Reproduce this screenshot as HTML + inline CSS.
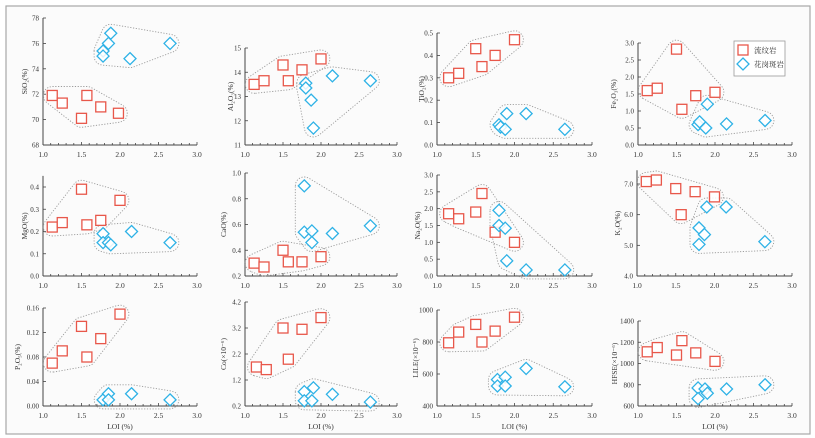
<!DOCTYPE html>
<html><head><meta charset="utf-8">
<style>
html,body{margin:0;padding:0;background:#fff;}
svg{display:block;}
text{font-family:"Liberation Serif","Noto Serif CJK SC",serif;fill:#333;}
</style></head>
<body>
<svg id="chart" width="815" height="438" viewBox="0 0 815 438" xmlns="http://www.w3.org/2000/svg">
<rect x="6" y="6" width="804" height="428" fill="#fbfbfb" stroke="#a8a8a8" stroke-width="1.2"/>
</svg>
<script>
// ---- data (LOI %, value) ----
const xTicks = ["1.0","1.5","2.0","2.5","3.0"];
const sio2Red = [[1.12,71.9],[1.25,71.3],[1.57,71.9],[1.75,71.0],[1.5,70.1],[1.98,70.5]];
const sio2Blue = [[1.78,75.4],[1.88,76.8],[1.85,76.0],[1.78,75.0],[2.13,74.8],[2.65,76.0]];
const al2o3Red = [[1.12,13.5],[1.25,13.65],[1.5,14.3],[1.57,13.65],[1.75,14.1],[2.0,14.55]];
const al2o3Blue = [[1.8,13.55],[1.8,13.35],[1.87,12.85],[1.9,11.7],[2.15,13.85],[2.65,13.65]];
const tio2Red = [[1.15,0.30],[1.28,0.32],[1.5,0.43],[1.58,0.35],[1.75,0.40],[2.0,0.47]];
const tio2Blue = [[1.8,0.09],[1.82,0.08],[1.88,0.07],[1.9,0.14],[2.15,0.14],[2.65,0.07]];
const fe2o3Red = [[1.12,1.6],[1.25,1.67],[1.5,2.82],[1.57,1.05],[1.75,1.45],[2.0,1.55]];
const fe2o3Blue = [[1.78,0.6],[1.8,0.68],[1.88,0.5],[1.9,1.2],[2.15,0.62],[2.65,0.72]];
const mgoRed = [[1.12,0.22],[1.25,0.24],[1.5,0.39],[1.57,0.23],[1.75,0.25],[2.0,0.34]];
const mgoBlue = [[1.78,0.19],[1.78,0.15],[1.85,0.15],[1.88,0.14],[2.15,0.2],[2.65,0.15]];
const caoRed = [[1.12,0.30],[1.25,0.27],[1.5,0.40],[1.57,0.31],[1.75,0.31],[2.0,0.35]];
const caoBlue = [[1.78,0.90],[1.78,0.54],[1.88,0.55],[1.88,0.46],[2.15,0.53],[2.65,0.59]];
const na2oRed = [[1.15,1.85],[1.28,1.7],[1.5,1.9],[1.58,2.45],[1.75,1.3],[2.0,1.0]];
const na2oBlue = [[1.8,1.95],[1.8,1.5],[1.88,1.42],[1.9,0.45],[2.15,0.18],[2.65,0.18]];
const k2oRed = [[1.12,7.08],[1.25,7.13],[1.5,6.85],[1.57,6.0],[1.75,6.75],[2.0,6.58]];
const k2oBlue = [[1.9,6.25],[2.15,6.25],[1.8,5.57],[1.87,5.35],[1.8,5.03],[2.65,5.12]];
const p2o5Red = [[1.12,0.07],[1.25,0.09],[1.5,0.13],[1.57,0.08],[1.75,0.11],[2.0,0.15]];
const p2o5Blue = [[1.78,0.01],[1.85,0.02],[1.85,0.01],[2.15,0.02],[2.65,0.01]];
const coRed = [[1.15,1.7],[1.28,1.6],[1.5,3.2],[1.57,2.0],[1.75,3.15],[2.0,3.6]];
const coBlue = [[1.78,0.75],[1.9,0.9],[1.78,0.4],[1.88,0.4],[2.15,0.65],[2.65,0.35]];
const lileRed = [[1.15,795],[1.28,862],[1.5,910],[1.58,800],[1.75,868],[2.0,955]];
const lileBlue = [[1.78,565],[1.88,580],[1.78,525],[1.88,525],[2.15,635],[2.65,520]];
const hfseRed = [[1.12,1110],[1.25,1150],[1.5,1080],[1.57,1215],[1.75,1100],[2.0,1020]];
const hfseBlue = [[1.78,770],[1.87,760],[1.78,670],[1.9,720],[2.15,760],[2.65,800]];
const sio2Ticks = [68,70,72,74,76,78];
const al2o3Ticks = [11,12,13,14,15];
const tio2Ticks = ["0.0","0.1","0.2","0.3","0.4","0.5"];
const fe2o3Ticks = ["0.0","0.5","1.0","1.5","2.0","2.5","3.0"];
const mgoTicks = ["0.0","0.1","0.2","0.3","0.4"];
const caoTicks = ["0.2","0.4","0.6","0.8","1.0"];
const na2oTicks = ["0.0","0.5","1.0","1.5","2.0","2.5","3.0"];
const k2oTicks = ["4.0","5.0","6.0","7.0"];
const p2o5Ticks = ["0.00","0.04","0.08","0.12","0.16"];
const coTicks = ["0.2","1.2","2.2","3.2","4.2"];
const lileTicks = [400,600,800,1000];
const hfseTicks = [600,800,1000,1200,1400];

// ---- layout ----
const panels = [
 {id:"sio2",label:"SiO₂(%)",red:sio2Red,blue:sio2Blue,ticks:sio2Ticks,x0:43,x1:197,y0:145,y1:18,vmin:68,vmax:78,top:78,lx:27,loi:false},
 {id:"al2o3",label:"Al₂O₃(%)",red:al2o3Red,blue:al2o3Blue,ticks:al2o3Ticks,x0:245,x1:397,y0:145,y1:48,vmin:11,vmax:15,top:15,lx:233,loi:false},
 {id:"tio2",label:"TiO₂(%)",red:tio2Red,blue:tio2Blue,ticks:tio2Ticks,x0:437,x1:592,y0:145,y1:33,vmin:0,vmax:0.5,top:0.5,lx:424,loi:false},
 {id:"fe2o3",label:"Fe₂O₃(%)",red:fe2o3Red,blue:fe2o3Blue,ticks:fe2o3Ticks,x0:638,x1:792,y0:145,y1:43,vmin:0,vmax:3,top:3,lx:616,loi:false},
 {id:"mgo",label:"MgO(%)",red:mgoRed,blue:mgoBlue,ticks:mgoTicks,x0:43,x1:197,y0:276,y1:187,vmin:0,vmax:0.4,top:0.45,lx:27,loi:false},
 {id:"cao",label:"CaO(%)",red:caoRed,blue:caoBlue,ticks:caoTicks,x0:245,x1:397,y0:276,y1:173,vmin:0.2,vmax:1.0,top:1.0,lx:226,loi:false},
 {id:"na2o",label:"Na₂O(%)",red:na2oRed,blue:na2oBlue,ticks:na2oTicks,x0:437,x1:592,y0:276,y1:175,vmin:0,vmax:3,top:3,lx:420,loi:false},
 {id:"k2o",label:"K₂O(%)",red:k2oRed,blue:k2oBlue,ticks:k2oTicks,x0:637,x1:792,y0:276,y1:184,vmin:4,vmax:7,top:7.45,lx:620,loi:false},
 {id:"p2o5",label:"P₂O₅(%)",red:p2o5Red,blue:p2o5Blue,ticks:p2o5Ticks,x0:43,x1:197,y0:406,y1:308,vmin:0,vmax:0.16,top:0.16,lx:20,loi:true},
 {id:"co",label:"Co(×10⁻⁶)",red:coRed,blue:coBlue,ticks:coTicks,x0:245,x1:397,y0:406,y1:302,vmin:0.2,vmax:4.2,top:4.2,lx:226,loi:true},
 {id:"lile",label:"LILE(×10⁻⁶)",red:lileRed,blue:lileBlue,ticks:lileTicks,x0:437,x1:592,y0:406,y1:310,vmin:400,vmax:1000,top:1000,lx:418,loi:true},
 {id:"hfse",label:"HFSE(×10⁻⁶)",red:hfseRed,blue:hfseBlue,ticks:hfseTicks,x0:638,x1:792,y0:406,y1:321,vmin:600,vmax:1400,top:1400,lx:617,loi:true}
];
const NS="http://www.w3.org/2000/svg";
const svg=document.getElementById("chart");
function mk(tag,attrs,parent){const e=document.createElementNS(NS,tag);for(const k in attrs)e.setAttribute(k,attrs[k]);(parent||svg).appendChild(e);return e;}

function hullPath(pts,pad){
  // convex hull
  const p=pts.map(a=>a.slice()).sort((a,b)=>a[0]-b[0]||a[1]-b[1]);
  const cr=(o,a,b)=>(a[0]-o[0])*(b[1]-o[1])-(a[1]-o[1])*(b[0]-o[0]);
  const lo=[],up=[];
  for(const q of p){while(lo.length>=2&&cr(lo[lo.length-2],lo[lo.length-1],q)<=0)lo.pop();lo.push(q);}
  for(let i=p.length-1;i>=0;i--){const q=p[i];while(up.length>=2&&cr(up[up.length-2],up[up.length-1],q)<=0)up.pop();up.push(q);}
  let h=lo.slice(0,-1).concat(up.slice(0,-1));
  if(h.length<2)h=[p[0],[p[0][0]+1,p[0][1]]];
  const cx=h.reduce((s,a)=>s+a[0],0)/h.length, cy=h.reduce((s,a)=>s+a[1],0)/h.length;
  // sample padded outline
  const out=[];
  const n=h.length;
  for(let i=0;i<n;i++){
    const a=h[(i-1+n)%n],b=h[i],c=h[(i+1)%n];
    const n1=norm([b[1]-a[1],a[0]-b[0]]),n2=norm([c[1]-b[1],b[0]-c[0]]);
    let t1=Math.atan2(n1[1],n1[0]),t2=Math.atan2(n2[1],n2[0]);
    // ensure orientation outward
    const test=[b[0]+n1[0],b[1]+n1[1]];
    const sgn=((test[0]-cx)*n1[0]+(test[1]-cy)*n1[1])>=-1e9?1:1;
    let d=t2-t1; while(d<0)d+=2*Math.PI; while(d>2*Math.PI)d-=2*Math.PI;
    if(d>Math.PI){d-=2*Math.PI;}
    for(let k=0;k<=6;k++){const t=t1+d*k/6;out.push([b[0]+pad*Math.cos(t)*sgn,b[1]+pad*Math.sin(t)*sgn]);}
  }
  return "M"+out.map(q=>q[0].toFixed(1)+","+q[1].toFixed(1)).join("L")+"Z";
}
function norm(v){const l=Math.hypot(v[0],v[1])||1;return [v[0]/l,v[1]/l];}

panels.forEach(P=>{
  const g=mk("g",{});
  
  
  const X=v=>P.x0+(v-1)/(2)*(P.x1-P.x0);
  const Y=v=>P.y0-(v-P.vmin)/(P.vmax-P.vmin)*(P.y0-P.y1);
  // axes
  const xa=mk("line",{x1:P.x0,y1:P.y0,x2:P.x1,y2:P.y0,stroke:"#444","stroke-width":1},g);
  
  
  const ya=mk("line",{x1:P.x0,y1:P.y0,x2:P.x0,y2:Y(P.top),stroke:"#444","stroke-width":1},g);
  
  
  for(let i=0;i<=20;i++){const x=P.x0+i/20*(P.x1-P.x0);mk("line",{x1:x,y1:P.y0,x2:x,y2:P.y0-(i%5==0?3:2),stroke:"#444","stroke-width":0.8},g);}
  xTicks.forEach(t=>{const tx=mk("text",{x:X(parseFloat(t)),y:P.y0+12,"font-size":7.5,"text-anchor":"middle"},g);tx.textContent=t;
    
    });
  P.ticks.forEach(t=>{const y=Y(parseFloat(t));mk("line",{x1:P.x0,y1:y,x2:P.x0+3,y2:y,stroke:"#444","stroke-width":0.8},g);
    const tx=mk("text",{x:P.x0-4,y:y+2.5,"font-size":7,"text-anchor":"end"},g);tx.textContent=t;
    
    });
  const cy=(P.y0+Y(P.top))/2;
  const yl=mk("text",{x:P.lx,y:cy,"font-size":7.5,"text-anchor":"middle",transform:`rotate(-90 ${P.lx} ${cy})`},g);
  yl.textContent=P.label;
  
  
  if(P.loi){const xl=mk("text",{x:(P.x0+P.x1)/2,y:P.y0+23,"font-size":7.5,"text-anchor":"middle"},g);xl.textContent="LOI (%)";
    
    }
  // hulls
  [["red",P.red],["blue",P.blue]].forEach(([nm,arr])=>{
    const hp=mk("path",{d:hullPath(arr.map(d=>[X(d[0]),Y(d[1])]),9),fill:"none",stroke:"#9a9a9a","stroke-width":0.9,"stroke-dasharray":"1.2 1.6"},g);
    
    
  });
  P.red.forEach(d=>{const r=mk("rect",{x:X(d[0])-5,y:Y(d[1])-5,width:10,height:10,fill:"#fff","fill-opacity":0.85,stroke:"#e8574a","stroke-width":1.3},g);
    
    });
  P.blue.forEach(d=>{const x=X(d[0]),y=Y(d[1]);const r=mk("path",{d:`M${x},${y-6}L${x+6},${y}L${x},${y+6}L${x-6},${y}Z`,fill:"#fff","fill-opacity":0.85,stroke:"#2fb2e6","stroke-width":1.3},g);
    
    });
});
// legend
const lg=mk("g",{});


mk("rect",{x:734,y:41,width:51,height:35,fill:"#fff",stroke:"#999","stroke-width":0.8},lg);
const ls=mk("rect",{x:738,y:45,width:10,height:10,fill:"#fff",stroke:"#e8574a","stroke-width":1.3},lg);


const t1=mk("text",{x:754,y:53,"font-size":7.5},lg);t1.textContent="流纹岩";
const ld=mk("path",{d:"M743,58L749,64L743,70L737,64Z",fill:"#fff",stroke:"#2fb2e6","stroke-width":1.3},lg);


const t2=mk("text",{x:754,y:67,"font-size":7.5},lg);t2.textContent="花岗斑岩";
</script>
</body></html>
